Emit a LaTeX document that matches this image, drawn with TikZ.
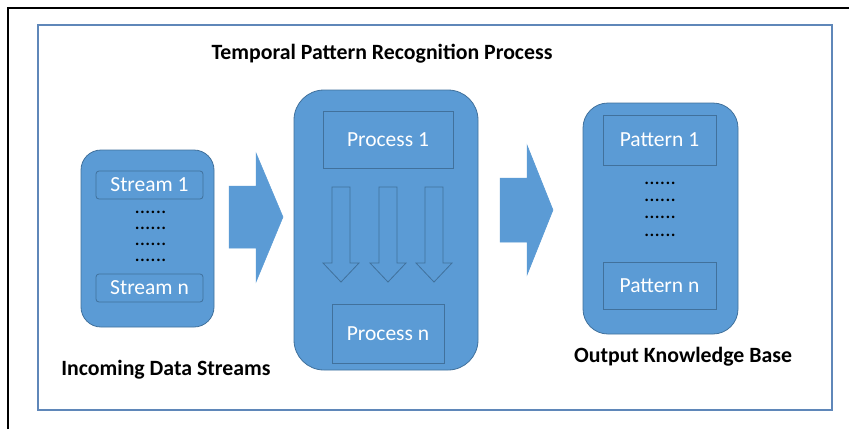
\documentclass[tikz,border=0pt]{standalone}
\usepackage{fontspec}
\setmainfont{Carlito}
\definecolor{boxblue}{HTML}{5B9BD5}
\definecolor{edgeblue}{HTML}{41719C}
\definecolor{framecol}{HTML}{5F87B9}
\begin{document}
\begin{tikzpicture}[x=1pt,y=-1pt,
  panel/.style={draw=edgeblue, line width=0.8pt, fill=boxblue, inner sep=0pt},
  item/.style={draw=edgeblue, line width=0.8pt, fill=boxblue, inner sep=0pt,
    text=white, font=\fontsize{21.5}{24}\selectfont},
  dotcol/.style={inner sep=0pt, align=center},
  caption/.style={inner sep=0pt, font=\fontsize{21.8}{24}\selectfont\bfseries},
  bigarrow/.style={fill=boxblue, draw=boxblue, line width=0.5pt},
  flowarrow/.style={draw=edgeblue, line width=0.8pt, line join=miter}
]
\useasboundingbox (0,0) rectangle (849,429);
\fill[white] (0,0) rectangle (849,429);

% page edge and frame
\draw[line width=2.6pt] (8,429) -- (8,8) -- (849,8);
\draw[framecol, line width=1.4pt] (38,25) rectangle (832,410);

% title
\node[caption] (title) at (382,54) {Temporal Pattern Recognition Process};

% incoming data streams
\node[panel, rounded corners=20pt, minimum width=133pt, minimum height=177pt] (inbox) at (147.5,238.5) {};
\node[item, rounded corners=3pt, minimum width=107pt, minimum height=28pt] (s1) at (149.5,185) {Stream 1};
\node[item, rounded corners=3pt, minimum width=107pt, minimum height=28pt] (sn) at (149.5,288) {Stream n};
\node[dotcol, font=\fontsize{21}{16}\selectfont] (sdots) at (150.5,236) {......\\......\\......\\......};
\node[caption] (inlabel) at (166,370) {Incoming Data Streams};

% arrow into the process block
\draw[bigarrow] (229,186) -- (256,186) -- (256,153) -- (283,217) -- (256,282) -- (256,248) -- (229,248) -- cycle;

% recognition process
\node[panel, rounded corners=30pt, minimum width=184pt, minimum height=280pt] (procbox) at (386,230) {};
\node[item, minimum width=130pt, minimum height=57pt] (p1) at (388,139.5) {Process 1};
\node[item, minimum width=112pt, minimum height=59pt] (pn) at (388,333.5) {Process n};
\foreach \cx in {341,388,434}{
  \draw[flowarrow] (\cx-9,187) -- (\cx+9,187) -- (\cx+9,263) -- (\cx+18,263)
    -- (\cx,282) -- (\cx-18,263) -- (\cx-9,263) -- cycle;
}

% arrow into the knowledge base
\draw[bigarrow] (500,178) -- (527,178) -- (527,145) -- (553,210) -- (527,275) -- (527,242) -- (500,242) -- cycle;

% output knowledge base
\node[panel, rounded corners=25pt, minimum width=155pt, minimum height=231pt] (outbox) at (660.5,218.5) {};
\node[item, minimum width=113pt, minimum height=50pt] (pat1) at (659.5,140) {Pattern 1};
\node[item, minimum width=113pt, minimum height=47pt] (patn) at (659.5,285.5) {Pattern n};
\node[dotcol, font=\fontsize{21}{17.3}\selectfont] (pdots) at (660,209) {......\\......\\......\\......};
\node[caption] (outlabel) at (683,357) {Output Knowledge Base};
\end{tikzpicture}
\end{document}
